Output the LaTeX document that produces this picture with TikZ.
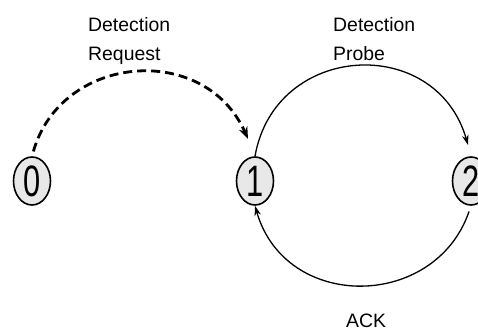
\documentclass[tikz,border=0pt]{standalone}
\usepackage{fontspec}
\setmainfont{Liberation Sans}
\usetikzlibrary{shapes.geometric,arrows.meta}
\begin{document}
\begin{tikzpicture}[x=1pt,y=1pt,
  state/.style={ellipse,draw,line width=1.6pt,fill=gray!18,
    minimum width=37pt,minimum height=48pt,inner sep=0pt,
    font=\fontsize{44}{44}\selectfont},
  lbl/.style={inner sep=0pt,align=left,font=\fontsize{19.4}{29}\selectfont},
  flow/.style={line width=1.3pt,-{Stealth[length=10pt,width=6.5pt]}},
  req/.style={line width=2.8pt,dash pattern=on 9pt off 5pt,
    -{Stealth[length=12pt,width=9pt]}}]
\useasboundingbox (0,0) rectangle (478,329);
\clip (0,0) rectangle (478,329);

% the three stations
\node[state] (n0) at (32,148) {\scalebox{0.7}[1]{0}};
\node[state] (n1) at (255,148) {\scalebox{0.7}[1]{1}};
\node[state] (n2) at (471,148) {\scalebox{0.7}[1]{2}};

% free ends of the arrows that stop short of a station
\coordinate (reqend) at (248,190);
\coordinate (probeend) at (468,184);

% messages
\draw[req,shorten <=5pt] (n0.north) to[out=74,in=114,looseness=1.26] (reqend);
\draw[flow] (n1.north) to[out=80,in=106,looseness=1.39] (probeend);
\draw[flow,shorten <=6pt] (n2.south) to[out=-109,in=-74,looseness=1.31] (n1.south);

% labels
\node[lbl,anchor=north west] (lreq) at (88,312) {Detection\\Request};
\node[lbl,anchor=north west] (lprobe) at (333,312) {Detection\\Probe};
\node[lbl,anchor=base] (lack) at (366,2) {ACK};
\end{tikzpicture}
\end{document}
